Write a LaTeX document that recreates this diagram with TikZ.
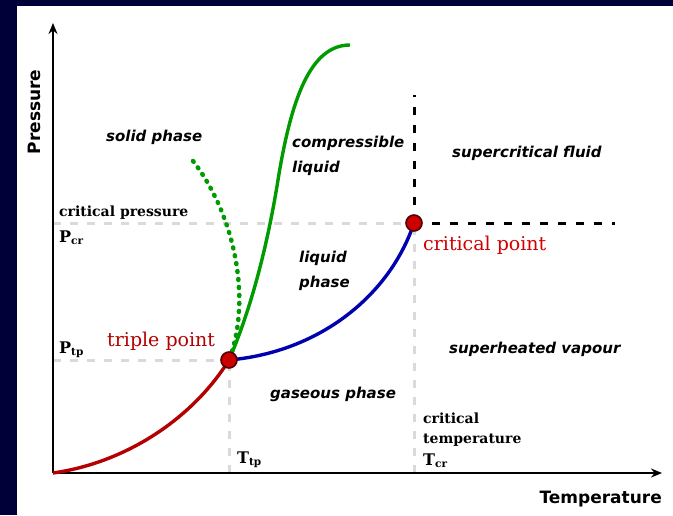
\documentclass[tikz,border=0pt]{standalone}
\usepackage{fontspec}
\setmainfont{DejaVu Serif}
\newfontfamily\regionfont{DejaVu Sans}
\usetikzlibrary{arrows.meta}
\definecolor{framenavy}{RGB}{0,0,56}
\definecolor{gridgray}{RGB}{218,218,218}
\definecolor{curvered}{RGB}{180,0,0}
\definecolor{curveblue}{RGB}{0,0,175}
\definecolor{curvegreen}{RGB}{0,155,0}
\definecolor{labelred}{RGB}{210,0,0}
\definecolor{ptfill}{RGB}{205,0,0}
\definecolor{ptedge}{RGB}{80,0,0}
\tikzset{
  axis/.style={line width=2pt,-{Stealth[length=11pt,width=9pt]}},
  guide/.style={gridgray,line width=3pt,dash pattern=on 8pt off 9pt},
  blackguide/.style={black,line width=3pt,dash pattern=on 8pt off 10pt},
  curve/.style={line width=3.4pt},
  dotcurve/.style={line width=4.5pt,line cap=round,dash pattern=on 1pt off 7pt},
  region/.style={font=\regionfont\bfseries\itshape\fontsize{15}{15}\selectfont,anchor=base west,inner sep=0pt},
  smalllabel/.style={font=\bfseries\fontsize{14}{14}\selectfont,anchor=base west,inner sep=0pt},
  redlabel/.style={font=\fontsize{19}{19}\selectfont,anchor=base west,inner sep=0pt},
  axislabel/.style={font=\regionfont\bfseries\fontsize{17}{17}\selectfont,inner sep=0pt},
  phasept/.style={circle,draw=ptedge,fill=ptfill,line width=1.6pt,minimum size=16pt,inner sep=0pt}
}
\newcommand{\symsub}[2]{{\fontsize{16}{16}\selectfont #1}\raisebox{-2.5pt}{\fontsize{10.5}{10.5}\selectfont #2}}
\begin{document}
\begin{tikzpicture}[x=1pt,y=-1pt]
\useasboundingbox (0,0) rectangle (673,515);
\fill[framenavy] (0,0) rectangle (673,515);
\fill[white] (17,6) rectangle (673,515);

% key coordinates
\coordinate (O) at (53,473);
\coordinate (ytop) at (53,23);
\coordinate (xend) at (662,473);
\coordinate (tpc) at (229,360);
\coordinate (cpc) at (414,223);
\coordinate (sctop) at (414,95);
\coordinate (scright) at (615,223);
\coordinate (solidtop) at (193,161);
\coordinate (liqtop) at (350,45);

% guides
\draw[guide] (O |- cpc) -- (cpc);
\draw[guide] (O |- tpc) -- (tpc);
\draw[guide] (O -| tpc) -- (tpc);
\draw[guide] (O -| cpc) -- (cpc);
\draw[blackguide] (cpc) -- (sctop);
\draw[blackguide] (cpc) -- (scright);

% axes
\draw[axis] (O) -- (ytop);
\draw[axis] (O) -- (xend);

% phase boundaries
\draw[curve,curvered] (O) .. controls (130,462) and (195,415) .. (tpc);
\draw[curve,curveblue] (tpc) .. controls (320,352) and (390,295) .. (cpc);
\draw[curve,curvegreen] (tpc) .. controls (255,300) and (270,230) .. (278,180)
   .. controls (291,100) and (310,45) .. (liqtop);
\draw[dotcurve,curvegreen] (solidtop) .. controls (235,215) and (252,300) .. (tpc);

% points
\node[phasept] (tp) at (tpc) {};
\node[phasept] (cp) at (cpc) {};

% labels
\node[axislabel,rotate=90] (plabel) at (34,112) {Pressure};
\node[axislabel,anchor=base east] (tlabel) at (662,503) {Temperature};

\node[region] (solid) at (106,141) {solid phase};
\node[region] (comp1) at (292,147) {compressible};
\node[region] (comp2) at (292,172) {liquid};
\node[region] (liq1) at (299,262) {liquid};
\node[region] (liq2) at (299,287) {phase};
\node[region] (gas) at (270,398) {gaseous phase};
\node[region] (super) at (452,157) {supercritical fluid};
\node[region] (vapour) at (449,353) {superheated vapour};

\node[smalllabel] (cpress) at (59,216) {critical pressure};
\node[smalllabel] (pcr) at (59,242) {\symsub{P}{cr}};
\node[smalllabel] (ptp) at (59,353) {\symsub{P}{tp}};
\node[smalllabel] (ttp) at (237,463) {\symsub{T}{tp}};
\node[smalllabel] (ctemp1) at (423,423) {critical};
\node[smalllabel] (ctemp2) at (423,443) {temperature};
\node[smalllabel] (tcr) at (423,465) {\symsub{T}{cr}};

\node[redlabel,text=curvered] (tplabel) at (107,346) {triple point};
\node[redlabel,text=labelred] (cplabel) at (423,250) {critical point};
\end{tikzpicture}
\end{document}
